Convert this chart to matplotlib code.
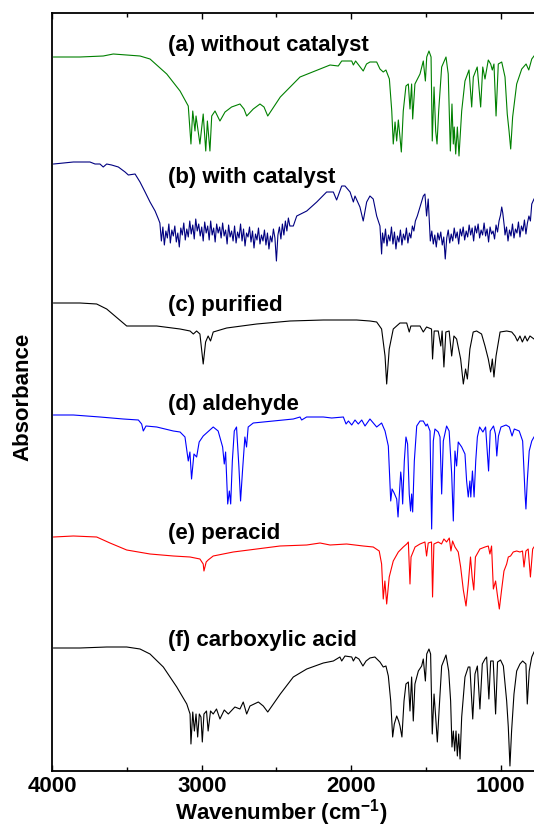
import matplotlib
matplotlib.use("Agg")
import matplotlib.pyplot as plt
from matplotlib.ticker import MultipleLocator

plt.rcParams['font.family'] = ['Liberation Sans', 'DejaVu Sans']
plt.rcParams['font.weight'] = 'bold'
plt.rcParams['mathtext.fontset'] = 'custom'
plt.rcParams['mathtext.bf'] = 'Liberation Sans:bold'
plt.rcParams['mathtext.rm'] = 'Liberation Sans:bold'
plt.rcParams['mathtext.default'] = 'bf'

# spectra: (wavenumber cm-1, stacked absorbance units)
trace_a = [(3991, 7.14), (3815, 7.14), (3659, 7.15), (3592, 7.17), (3413, 7.15), (3346, 7.12),
           (3234, 6.97), (3145, 6.80), (3090, 6.65), (3072, 6.27), (3060, 6.60), (3045, 6.40),
           (3038, 6.55), (3012, 6.27), (2990, 6.57), (2973, 6.20), (2962, 6.50), (2945, 6.20),
           (2933, 6.55), (2911, 6.60), (2878, 6.50), (2844, 6.59), (2800, 6.64), (2744, 6.67),
           (2717, 6.62), (2699, 6.55), (2655, 6.62), (2610, 6.67), (2583, 6.64), (2558, 6.55),
           (2474, 6.74), (2342, 6.94), (2208, 7.02), (2141, 7.06), (2086, 7.05), (2063, 7.10),
           (1996, 7.10), (1985, 7.06), (1970, 7.10), (1919, 7.00), (1897, 7.07), (1874, 7.09),
           (1829, 7.09), (1807, 7.02), (1785, 6.99), (1767, 7.01), (1744, 6.92), (1728, 6.60),
           (1718, 6.27), (1706, 6.49), (1695, 6.30), (1684, 6.51), (1673, 6.34), (1664, 6.19),
           (1651, 6.60), (1633, 6.85), (1617, 6.87), (1606, 6.62), (1595, 6.87), (1588, 6.52),
           (1573, 6.87), (1539, 6.97), (1517, 7.10), (1503, 6.90), (1494, 7.14), (1479, 7.20),
           (1465, 7.14), (1457, 6.30), (1445, 6.84), (1434, 6.40), (1425, 6.27), (1414, 6.60),
           (1394, 7.04), (1365, 7.14), (1350, 6.97), (1336, 6.20), (1325, 6.67), (1316, 6.27),
           (1310, 6.44), (1300, 6.17), (1289, 6.44), (1278, 6.15), (1260, 6.60), (1238, 6.90),
           (1211, 7.01), (1193, 6.64), (1182, 6.94), (1156, 7.04), (1133, 6.64), (1119, 7.04),
           (1104, 6.92), (1082, 7.11), (1066, 7.07), (1055, 7.01), (1044, 7.07), (1030, 6.55),
           (1015, 7.07), (992, 7.09), (970, 6.94), (955, 6.57), (943, 6.40), (932, 6.22),
           (919, 6.54), (892, 6.87), (858, 7.02), (829, 7.07), (811, 7.01), (791, 7.12), (776, 7.15)]

trace_b = [(3991, 6.07), (3859, 6.09), (3748, 6.09), (3714, 6.07), (3681, 6.07), (3659, 6.04),
           (3636, 6.07), (3603, 6.06), (3558, 6.04), (3513, 5.99), (3491, 5.96), (3446, 5.97),
           (3413, 5.89), (3379, 5.79), (3346, 5.69), (3312, 5.60), (3290, 5.52),
           (3280, 5.48), (3270, 5.30), (3260, 5.44), (3250, 5.26), (3240, 5.40), (3230, 5.33),
           (3220, 5.47), (3210, 5.28), (3200, 5.41), (3190, 5.35), (3180, 5.45), (3170, 5.29),
           (3160, 5.38), (3150, 5.24), (3140, 5.43), (3130, 5.36), (3120, 5.48), (3110, 5.31),
           (3100, 5.42), (3090, 5.34), (3080, 5.50), (3070, 5.37), (3060, 5.46), (3050, 5.32),
           (3040, 5.52), (3030, 5.40), (3020, 5.47), (3010, 5.35), (3000, 5.44), (2990, 5.30),
           (2980, 5.49), (2970, 5.38), (2960, 5.45), (2950, 5.31), (2940, 5.50), (2930, 5.36),
           (2920, 5.43), (2910, 5.29), (2900, 5.47), (2890, 5.38), (2880, 5.44), (2870, 5.33),
           (2860, 5.48), (2850, 5.35), (2840, 5.41), (2830, 5.27), (2820, 5.46), (2810, 5.34),
           (2800, 5.40), (2790, 5.30), (2780, 5.45), (2770, 5.28), (2760, 5.39), (2750, 5.33),
           (2740, 5.47), (2730, 5.30), (2720, 5.42), (2710, 5.25), (2700, 5.38), (2690, 5.34),
           (2680, 5.44), (2670, 5.29), (2660, 5.40), (2650, 5.23), (2640, 5.37), (2630, 5.31),
           (2620, 5.43), (2610, 5.27), (2600, 5.36), (2590, 5.30), (2580, 5.41), (2570, 5.26),
           (2560, 5.38), (2550, 5.22), (2540, 5.35), (2530, 5.29), (2520, 5.42), (2510, 5.33),
           (2500, 5.10), (2490, 5.36), (2480, 5.44), (2470, 5.32), (2460, 5.47), (2450, 5.36),
           (2440, 5.50), (2430, 5.40), (2420, 5.53), (2410, 5.45), (2387, 5.45), (2364, 5.55),
           (2297, 5.60), (2230, 5.69), (2164, 5.79), (2119, 5.79), (2097, 5.71), (2063, 5.85),
           (2041, 5.85), (2007, 5.79), (1985, 5.69), (1974, 5.75), (1941, 5.64), (1919, 5.50),
           (1896, 5.69), (1874, 5.75), (1852, 5.72), (1829, 5.55), (1807, 5.45),
           (1796, 5.17), (1790, 5.38), (1780, 5.28), (1770, 5.42), (1760, 5.25), (1750, 5.36),
           (1740, 5.30), (1730, 5.44), (1720, 5.27), (1710, 5.39), (1700, 5.22), (1690, 5.35),
           (1680, 5.29), (1670, 5.41), (1660, 5.26), (1650, 5.37), (1640, 5.31), (1630, 5.43),
           (1620, 5.28), (1610, 5.38), (1600, 5.33), (1590, 5.45), (1580, 5.40), (1570, 5.50),
           (1557, 5.55), (1517, 5.75), (1506, 5.77), (1495, 5.55), (1484, 5.72),
           (1470, 5.30), (1460, 5.40), (1450, 5.27), (1440, 5.36), (1430, 5.24), (1420, 5.38),
           (1410, 5.31), (1400, 5.39), (1390, 5.26), (1380, 5.34), (1370, 5.12), (1360, 5.33),
           (1350, 5.41), (1340, 5.28), (1330, 5.37), (1320, 5.30), (1310, 5.43), (1300, 5.33),
           (1290, 5.39), (1280, 5.27), (1270, 5.42), (1260, 5.35), (1250, 5.44), (1240, 5.31),
           (1230, 5.40), (1220, 5.34), (1210, 5.46), (1200, 5.36), (1190, 5.43), (1180, 5.30),
           (1170, 5.45), (1160, 5.38), (1150, 5.47), (1140, 5.33), (1130, 5.41), (1120, 5.36),
           (1110, 5.48), (1100, 5.35), (1090, 5.42), (1080, 5.29), (1070, 5.44), (1060, 5.37),
           (1050, 5.40), (1040, 5.32), (1030, 5.46), (1020, 5.39), (1010, 5.50), (1000, 5.56),
           (992, 5.64), (985, 5.58), (975, 5.45), (970, 5.36), (960, 5.44), (950, 5.30),
           (940, 5.41), (930, 5.35), (920, 5.47), (910, 5.33), (900, 5.42), (890, 5.38),
           (880, 5.49), (870, 5.34), (860, 5.45), (850, 5.40), (840, 5.51), (830, 5.37),
           (820, 5.48), (810, 5.55), (800, 5.50), (791, 5.67), (776, 5.72)]

trace_c = [(3991, 4.68), (3815, 4.68), (3703, 4.67), (3636, 4.62), (3502, 4.45), (3435, 4.45),
           (3301, 4.45), (3145, 4.42), (3078, 4.40), (3056, 4.37), (3034, 4.40), (3012, 4.37),
           (2990, 4.07), (2974, 4.29), (2957, 4.35), (2941, 4.30), (2923, 4.39), (2833, 4.43),
           (2632, 4.47), (2409, 4.50), (2186, 4.51), (1963, 4.51), (1874, 4.50), (1829, 4.49),
           (1796, 4.42), (1773, 4.15), (1762, 3.87), (1745, 4.22), (1718, 4.42), (1673, 4.48),
           (1628, 4.48), (1611, 4.39), (1600, 4.45), (1539, 4.45), (1517, 4.39), (1495, 4.44),
           (1462, 4.42), (1455, 4.12), (1444, 4.40), (1417, 4.40), (1400, 4.25), (1391, 4.40),
           (1379, 4.04), (1366, 4.39), (1344, 4.40), (1327, 4.15), (1312, 4.35), (1294, 4.32),
           (1267, 4.12), (1249, 3.87), (1234, 4.02), (1222, 3.92), (1205, 4.22), (1183, 4.39),
           (1160, 4.40), (1127, 4.37), (1104, 4.25), (1082, 4.12), (1066, 3.99), (1055, 4.12),
           (1044, 3.94), (1030, 4.15), (1003, 4.39), (959, 4.40), (925, 4.39), (903, 4.35),
           (887, 4.30), (870, 4.35), (854, 4.29), (836, 4.35), (821, 4.30), (803, 4.35), (776, 4.32)]

trace_d = [(3991, 3.56), (3859, 3.56), (3681, 3.54), (3525, 3.52), (3424, 3.51), (3402, 3.47),
           (3391, 3.40), (3373, 3.45), (3301, 3.44), (3190, 3.40), (3145, 3.39), (3112, 3.34),
           (3090, 3.10), (3079, 3.19), (3068, 2.92), (3052, 3.17), (3034, 3.14), (3017, 3.29),
           (2990, 3.35), (2923, 3.44), (2890, 3.40), (2860, 3.24), (2849, 3.07), (2840, 3.19),
           (2826, 2.67), (2815, 2.80), (2806, 2.67), (2795, 3.10), (2782, 3.40), (2767, 3.44),
           (2751, 3.04), (2740, 2.70), (2727, 3.00), (2711, 3.34), (2700, 3.24), (2689, 3.44),
           (2655, 3.48), (2521, 3.50), (2387, 3.52), (2342, 3.54), (2331, 3.51), (2298, 3.54),
           (2186, 3.54), (2130, 3.53), (2052, 3.54), (2034, 3.47), (2018, 3.50), (1996, 3.46),
           (1974, 3.51), (1952, 3.47), (1929, 3.51), (1907, 3.45), (1874, 3.52), (1829, 3.44),
           (1796, 3.48), (1773, 3.40), (1751, 3.25), (1735, 2.70), (1726, 2.82), (1712, 2.78),
           (1695, 2.72), (1686, 2.54), (1677, 2.77), (1668, 2.99), (1662, 2.90), (1655, 2.67),
           (1644, 3.10), (1633, 3.34), (1622, 3.27), (1611, 2.77), (1602, 2.60), (1595, 2.77),
           (1588, 2.59), (1577, 3.10), (1561, 3.45), (1539, 3.50), (1517, 3.50), (1499, 3.45),
           (1490, 3.47), (1472, 3.40), (1461, 2.42), (1450, 3.30), (1439, 3.42), (1417, 3.39),
           (1405, 3.34), (1394, 2.77), (1383, 3.30), (1361, 3.45), (1344, 3.40), (1327, 2.97),
           (1316, 2.50), (1305, 3.20), (1294, 3.05), (1283, 3.29), (1260, 3.24), (1238, 3.17),
           (1227, 2.90), (1216, 2.74), (1205, 2.90), (1199, 2.74), (1188, 3.00), (1177, 2.74),
           (1166, 3.10), (1155, 3.34), (1140, 3.44), (1118, 3.39), (1100, 3.44), (1080, 3.00),
           (1069, 3.40), (1047, 3.45), (1034, 3.37), (1025, 3.15), (1014, 3.35), (997, 3.44),
           (963, 3.46), (941, 3.44), (923, 3.35), (908, 3.42), (875, 3.40), (852, 3.30),
           (836, 2.77), (830, 2.62), (821, 2.90), (808, 3.20), (791, 3.30), (776, 3.34)]

trace_e = [(3991, 2.34), (3859, 2.35), (3703, 2.34), (3614, 2.28), (3502, 2.21), (3346, 2.17),
           (3190, 2.15), (3078, 2.14), (3012, 2.12), (2990, 2.07), (2985, 2.00), (2970, 2.09),
           (2957, 2.11), (2923, 2.15), (2789, 2.19), (2632, 2.22), (2476, 2.25), (2297, 2.26),
           (2208, 2.28), (2141, 2.26), (2030, 2.27), (1919, 2.25), (1852, 2.24), (1812, 2.20),
           (1796, 2.07), (1785, 1.72), (1774, 1.90), (1762, 1.67), (1745, 1.94), (1718, 2.10),
           (1684, 2.19), (1651, 2.24), (1628, 2.27), (1617, 2.29), (1606, 1.87), (1599, 2.14),
           (1572, 2.24), (1539, 2.27), (1506, 2.29), (1495, 2.15), (1484, 2.28), (1462, 2.29),
           (1455, 1.74), (1446, 2.27), (1417, 2.29), (1395, 2.27), (1379, 2.32), (1361, 2.29),
           (1343, 2.33), (1332, 2.20), (1321, 2.30), (1305, 2.24), (1283, 2.19), (1267, 2.04),
           (1249, 1.81), (1231, 1.65), (1216, 1.87), (1201, 2.14), (1190, 1.94), (1179, 1.81),
           (1168, 2.14), (1138, 2.22), (1104, 2.24), (1082, 2.25), (1071, 2.17), (1060, 2.25),
           (1048, 1.82), (1033, 1.90), (1022, 1.77), (1008, 1.62), (993, 1.81), (977, 2.00),
           (959, 2.07), (948, 2.14), (933, 2.15), (915, 2.19), (892, 2.20), (870, 2.19),
           (853, 2.20), (843, 2.04), (830, 2.20), (815, 2.22), (800, 1.94), (785, 2.22), (776, 2.24)]

trace_f = [(3991, 1.23), (3815, 1.23), (3636, 1.24), (3502, 1.24), (3413, 1.22), (3346, 1.17),
           (3257, 1.04), (3167, 0.84), (3100, 0.67), (3078, 0.57), (3072, 0.27), (3060, 0.59),
           (3049, 0.40), (3038, 0.57), (3027, 0.34), (3016, 0.57), (3005, 0.54), (2996, 0.29),
           (2985, 0.57), (2968, 0.60), (2957, 0.40), (2941, 0.60), (2923, 0.57), (2901, 0.62),
           (2878, 0.52), (2849, 0.61), (2822, 0.57), (2778, 0.64), (2744, 0.62), (2722, 0.69),
           (2699, 0.57), (2677, 0.65), (2621, 0.69), (2588, 0.65), (2558, 0.59), (2474, 0.77),
           (2387, 0.94), (2297, 1.02), (2186, 1.08), (2119, 1.10), (2075, 1.14), (2063, 1.10),
           (2041, 1.15), (1996, 1.14), (1985, 1.10), (1970, 1.14), (1948, 1.12), (1921, 1.05),
           (1900, 1.10), (1874, 1.13), (1841, 1.14), (1807, 1.09), (1785, 1.04), (1767, 1.05),
           (1751, 0.95), (1735, 0.70), (1722, 0.34), (1711, 0.47), (1695, 0.55), (1682, 0.50),
           (1673, 0.45), (1660, 0.34), (1646, 0.70), (1633, 0.87), (1617, 0.89), (1606, 0.60),
           (1595, 0.94), (1584, 0.50), (1573, 0.87), (1550, 1.00), (1528, 1.05), (1517, 1.12),
           (1503, 0.90), (1494, 1.17), (1479, 1.22), (1468, 1.17), (1457, 0.37), (1445, 0.77),
           (1434, 0.54), (1423, 0.29), (1410, 0.64), (1394, 1.05), (1365, 1.16), (1347, 1.00),
           (1334, 0.70), (1325, 0.24), (1316, 0.40), (1307, 0.20), (1298, 0.40), (1289, 0.15),
           (1280, 0.37), (1271, 0.12), (1260, 0.54), (1238, 0.94), (1216, 1.04), (1205, 1.04),
           (1186, 0.52), (1171, 0.97), (1155, 1.05), (1138, 0.62), (1122, 1.07), (1104, 1.12),
           (1093, 1.14), (1078, 0.72), (1066, 1.10), (1049, 1.10), (1033, 0.57), (1020, 1.09),
           (1000, 1.11), (981, 1.05), (959, 0.70), (948, 0.44), (937, 0.05), (926, 0.40),
           (910, 0.77), (892, 1.00), (870, 1.07), (852, 1.10), (830, 1.07), (821, 0.67),
           (808, 1.00), (791, 1.14), (776, 1.19)]

traces = [trace_a, trace_b, trace_c, trace_d, trace_e, trace_f]
colors = ['#008000', '#000080', 'black', '#0000ff', '#ff0000', 'black']
labels = ['(a) without catalyst', '(b) with catalyst', '(c) purified',
          '(d) aldehyde', '(e) peracid', '(f) carboxylic acid']
label_y = [7.26, 5.94, 4.66, 3.67, 2.38, 1.31]

fig = plt.figure(figsize=(5.34, 8.29), dpi=100)
ax = fig.add_axes([52.3 / 534, 57 / 829, (534 - 52.3) / 534, 758 / 829])

for tr, c in zip(traces, colors):
    wn, ab = zip(*tr)
    ax.plot(wn, ab, color=c, lw=0.8)

for lab, y in zip(labels, label_y):
    ax.text(3226, y, lab, fontsize=16, fontweight='bold', va='center', ha='left')

ax.set_xlim(4000, 776)
ax.set_ylim(0, 7.58)
ax.xaxis.set_major_locator(MultipleLocator(1000))
ax.xaxis.set_minor_locator(MultipleLocator(500))
ax.tick_params(axis='x', which='both', direction='in', top=True, bottom=True,
               labelsize=16, pad=3, width=1)
ax.tick_params(axis='x', which='major', length=4)
ax.tick_params(axis='x', which='minor', length=3)
ax.set_yticks([])
ax.spines['right'].set_visible(False)
for s in ['left', 'top', 'bottom']:
    ax.spines[s].set_linewidth(1.3)
for t in ax.get_xticklabels():
    t.set_fontweight('bold')

ax.set_xlabel('Wavenumber (cm$^{-1}$)', fontsize=16, fontweight='bold')
ax.xaxis.set_label_coords(0.475, -0.053)
ax.xaxis.label.set_va('center')
ax.set_ylabel('Absorbance', fontsize=16, fontweight='bold')
ax.yaxis.set_label_coords(-0.061, 0.495)
ax.yaxis.label.set_va('center')

fig.savefig('out.png', dpi=100)
